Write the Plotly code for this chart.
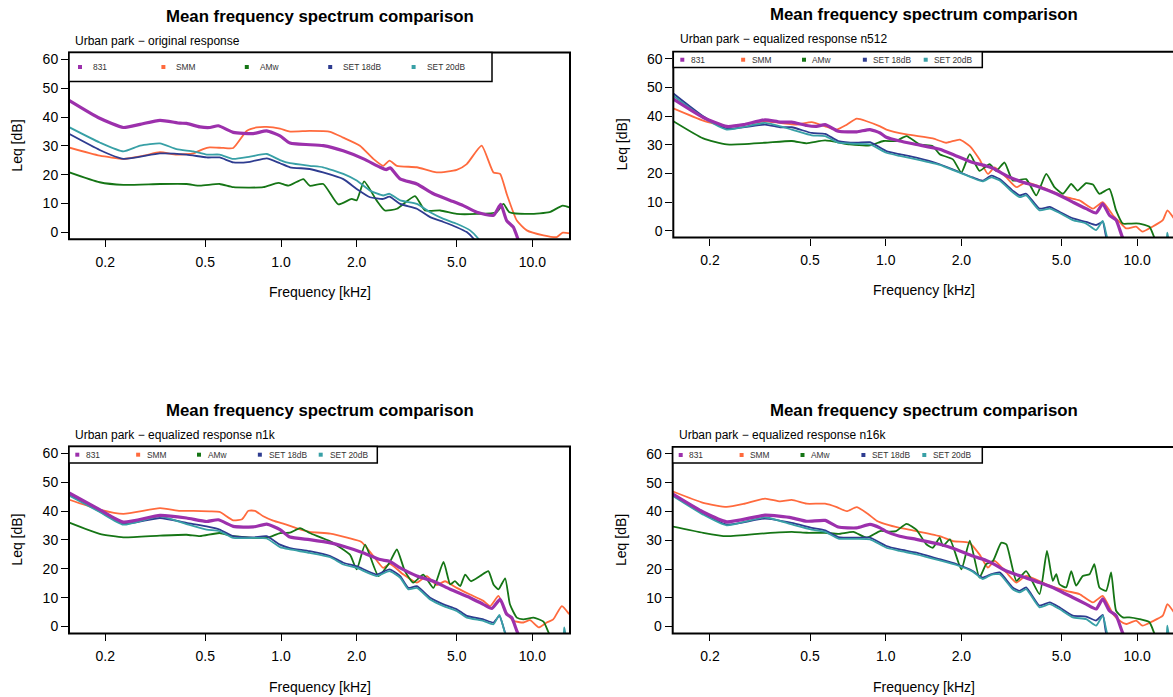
import math
import plotly.graph_objects as go

W, H = 1173, 697
FONT = "Liberation Sans, Arial, Helvetica, sans-serif"

# ---------------- data (frequency in kHz, level in dB) ----------------
SERIES = ["831", "SMM", "AMw", "SET 18dB", "SET 20dB"]
COLORS = ["#9C30AC", "#FF6A3D", "#157515", "#2E3C90", "#38A0A6"]
WIDTHS = [3.2, 1.8, 1.8, 1.8, 1.8]

XTICK_VALS = [0.2, 0.5, 1.0, 2.0, 5.0, 10.0]
XTICK_TEXT = ["0.2", "0.5", "1.0", "2.0", "5.0", "10.0"]
YTICK_VALS = [0, 10, 20, 30, 40, 50, 60]
Y_RANGE = [-2.4, 62.4]

TITLE = "Mean frequency spectrum comparison"
SUBTITLES = ["Urban park \u2212 original response",
             "Urban park \u2212 equalized response n512",
             "Urban park \u2212 equalized response n1k",
             "Urban park \u2212 equalized response n16k"]
X_TITLE = "Frequency [kHz]"
Y_TITLE = "Leq [dB]"

# --- original response ---
ORIG_831_F = [0.14, 0.19, 0.236, 0.275, 0.33, 0.396, 0.421, 0.476, 0.522, 0.563, 0.646, 0.776, 0.877, 0.991, 1.086, 1.473, 1.767, 2.13, 2.48, 2.62, 2.72, 2.975, 3.47, 4.04, 4.71, 5.31, 6.01, 7.0, 7.48, 7.9, 8.4, 8.8, 9.3]
ORIG_831_DB = [46.4, 39.6, 36.4, 37.5, 38.9, 37.9, 37.8, 36.6, 36.4, 37.0, 34.7, 34.3, 35.2, 33.5, 31.0, 30.1, 28.3, 25.5, 22.6, 21.8, 22.4, 18.6, 16.8, 13.4, 11.1, 9.3, 7.0, 5.9, 9.7, 4.1, 1.8, -2.8, -8]
ORIG_SMM_F = [0.14, 0.19, 0.236, 0.284, 0.33, 0.384, 0.448, 0.49, 0.52, 0.59, 0.646, 0.73, 0.8, 0.877, 0.991, 1.086, 1.3, 1.57, 1.767, 2.06, 2.33, 2.55, 2.7, 2.89, 3.47, 4.16, 5.0, 5.48, 6.28, 7.0, 7.44, 7.9, 8.67, 9.5, 11.07, 12.5, 13.2, 14.5]
ORIG_SMM_DB = [29.7, 26.6, 25.5, 26.6, 27.8, 27.0, 27.4, 28.9, 29.5, 29.3, 29.3, 35.2, 36.4, 36.6, 36.0, 35.0, 35.2, 34.9, 32.9, 30.1, 25.5, 23.1, 24.9, 23.1, 22.6, 20.8, 21.7, 23.7, 30.1, 20.8, 20.3, 13.4, 4.1, 0.7, -1.0, -1.6, -0.1, -0.5]
ORIG_AMW_F = [0.14, 0.19, 0.236, 0.33, 0.421, 0.476, 0.57, 0.646, 0.85, 0.975, 1.07, 1.227, 1.3, 1.473, 1.69, 1.91, 2.0, 2.14, 2.4, 2.59, 2.89, 3.41, 3.74, 4.3, 5.0, 6.0, 7.2, 7.67, 8.1, 9.77, 11.7, 13.2, 14.5]
ORIG_AMW_DB = [21.2, 17.4, 16.5, 16.8, 16.8, 16.2, 16.8, 15.7, 15.7, 17.2, 16.2, 18.5, 16.2, 16.8, 9.7, 11.6, 11.1, 17.7, 11.1, 7.6, 8.2, 12.6, 7.6, 7.6, 6.4, 6.4, 7.0, 9.9, 7.0, 6.4, 7.0, 9.3, 8.2]
ORIG_SET18_F = [0.14, 0.19, 0.236, 0.33, 0.421, 0.506, 0.57, 0.646, 0.753, 0.877, 0.991, 1.086, 1.3, 1.47, 1.77, 2.0, 2.26, 2.55, 2.7, 2.98, 3.47, 3.92, 4.43, 5.0, 5.48, 5.84, 6.3]
ORIG_SET18_DB = [34.7, 28.6, 25.5, 27.4, 27.0, 26.0, 26.0, 24.3, 24.5, 25.7, 24.0, 22.6, 22.0, 20.8, 18.5, 15.1, 12.2, 11.6, 12.4, 9.9, 8.2, 5.3, 3.6, 1.8, 0.1, -2.2, -6]
ORIG_SET20_F = [0.14, 0.19, 0.236, 0.275, 0.33, 0.384, 0.448, 0.506, 0.57, 0.646, 0.753, 0.877, 0.991, 1.086, 1.3, 1.47, 1.77, 2.0, 2.26, 2.55, 2.7, 2.98, 3.47, 3.92, 4.43, 5.0, 5.65, 6.1, 6.5]
ORIG_SET20_DB = [37.0, 31.2, 28.1, 30.1, 30.9, 28.9, 28.1, 27.0, 27.0, 25.5, 26.3, 27.2, 25.1, 24.0, 23.1, 22.6, 20.3, 18.0, 14.5, 12.8, 13.4, 11.1, 9.9, 7.0, 4.7, 3.0, 0.7, -2.2, -6]

# --- equalized n512 ---
N512_831_F = [0.14, 0.188, 0.233, 0.272, 0.331, 0.38, 0.423, 0.485, 0.531, 0.574, 0.648, 0.767, 0.866, 0.95, 1.006, 1.137, 1.324, 1.64, 1.91, 2.22, 2.51, 2.67, 3.02, 3.51, 4.09, 4.77, 5.55, 6.27, 6.87, 7.3, 7.76, 8.25, 8.77, 9.5]
N512_831_DB = [46.4, 39.5, 36.4, 37.0, 38.7, 37.9, 37.9, 36.7, 36.4, 37.0, 34.7, 34.5, 35.3, 34.1, 32.6, 31.3, 30.1, 28.4, 26.1, 23.8, 22.6, 21.8, 19.2, 16.9, 15.2, 12.9, 10.0, 7.7, 6.2, 9.4, 5.4, 3.7, -2.6, -8]
N512_SMM_F = [0.14, 0.188, 0.233, 0.272, 0.331, 0.38, 0.443, 0.508, 0.574, 0.639, 0.7, 0.767, 0.84, 0.95, 1.006, 1.21, 1.54, 1.74, 1.97, 2.16, 2.36, 2.55, 2.71, 3.02, 3.31, 3.62, 4.35, 5.22, 5.9, 6.67, 7.3, 8.01, 8.51, 9.05, 9.91, 10.5, 11.5, 12.65, 13.2, 14.0]
N512_SMM_DB = [43.0, 38.4, 36.4, 37.0, 38.2, 37.6, 37.0, 37.9, 36.4, 35.3, 37.0, 39.1, 38.2, 36.4, 35.3, 33.6, 32.2, 30.7, 31.8, 29.5, 24.9, 19.8, 22.1, 18.6, 15.2, 16.9, 14.6, 11.7, 10.6, 7.7, 10.0, 5.4, 3.1, 0.8, 1.4, -0.3, 1.4, 3.7, 7.1, 4.3]
N512_AMW_F = [0.14, 0.188, 0.233, 0.331, 0.423, 0.485, 0.574, 0.72, 0.866, 0.98, 1.1, 1.21, 1.365, 1.54, 1.64, 1.85, 2.0, 2.16, 2.36, 2.59, 2.75, 2.97, 3.2, 3.62, 3.97, 4.35, 4.69, 5.07, 5.47, 5.8, 6.27, 6.67, 7.08, 7.76, 8.25, 8.77, 9.32, 10.2, 11.2, 11.7, 12.2]
N512_AMW_DB = [38.7, 32.2, 30.1, 30.7, 31.3, 30.5, 31.5, 30.1, 29.8, 31.3, 31.3, 33.0, 30.1, 29.5, 26.7, 24.9, 20.3, 26.7, 20.9, 23.2, 20.9, 23.8, 17.5, 18.0, 12.3, 19.8, 15.2, 12.9, 16.3, 14.0, 16.6, 16.1, 12.9, 14.6, 7.1, 2.5, 2.5, 2.5, 1.4, -2.3, -6]
N512_SET18_F = [0.14, 0.188, 0.233, 0.331, 0.38, 0.423, 0.508, 0.574, 0.648, 0.767, 0.866, 1.006, 1.137, 1.324, 1.64, 1.91, 2.22, 2.43, 2.63, 2.84, 3.2, 3.41, 3.62, 4.09, 4.49, 4.91, 5.55, 6.27, 6.87, 7.3, 7.53, 8.0]
N512_SET18_DB = [48.5, 39.9, 35.6, 37.0, 36.1, 36.1, 34.1, 33.8, 31.3, 30.7, 30.9, 27.8, 26.7, 25.5, 23.2, 20.9, 18.6, 17.5, 19.2, 18.0, 14.0, 12.3, 12.9, 7.7, 8.3, 6.6, 4.3, 3.1, 2.0, 3.1, -2.1, -6]
N512_SET20_F = [0.14, 0.188, 0.233, 0.331, 0.423, 0.508, 0.574, 0.648, 0.767, 0.866, 1.006, 1.137, 1.324, 1.64, 1.91, 2.22, 2.43, 2.63, 2.84, 3.2, 3.41, 3.62, 4.09, 4.49, 4.91, 5.55, 6.27, 6.87, 7.3, 7.6, 8.0, 12.9, 13.2, 13.5]
N512_SET20_DB = [47.6, 39.5, 35.3, 37.6, 35.3, 33.3, 33.0, 30.7, 30.3, 30.1, 27.2, 26.1, 24.9, 23.0, 20.7, 18.4, 17.2, 18.6, 17.5, 13.4, 11.7, 12.3, 7.1, 7.7, 6.2, 3.7, 2.5, 0.2, 3.4, -2.3, -6, -6, -0.7, -6]

# --- equalized n1k ---
N1K_831_F = [0.14, 0.19, 0.236, 0.33, 0.421, 0.506, 0.563, 0.646, 0.776, 0.877, 0.991, 1.086, 1.3, 1.57, 1.77, 2.13, 2.48, 2.7, 2.98, 3.47, 4.04, 4.71, 5.65, 6.38, 6.9, 7.44, 7.9, 8.27, 8.67, 9.3]
N1K_831_DB = [46.8, 40.5, 36.2, 38.5, 37.6, 36.4, 37.0, 34.7, 34.5, 35.5, 33.6, 31.0, 30.1, 29.0, 27.8, 25.5, 23.2, 22.6, 20.3, 17.5, 15.7, 12.9, 10.0, 7.7, 6.3, 9.4, 4.3, 3.1, -1.5, -8]
N1K_SMM_F = [0.14, 0.19, 0.236, 0.33, 0.396, 0.448, 0.52, 0.57, 0.646, 0.7, 0.742, 0.788, 0.85, 0.93, 1.05, 1.15, 1.3, 1.57, 1.85, 2.09, 2.33, 2.55, 2.71, 3.07, 3.47, 3.8, 4.16, 4.49, 5.0, 5.65, 6.38, 6.79, 7.33, 7.79, 8.4, 9.21, 9.79, 10.6, 11.4, 12.1, 13.1, 14.0]
N1K_SMM_DB = [44.3, 40.5, 39.0, 41.0, 40.1, 40.1, 39.9, 39.7, 36.8, 37.2, 40.1, 40.1, 38.2, 36.7, 35.3, 34.1, 32.8, 32.2, 30.7, 29.3, 24.4, 20.3, 21.7, 18.0, 15.2, 17.5, 14.4, 15.7, 13.4, 11.1, 8.9, 7.1, 10.6, 5.4, 2.0, 1.4, 2.2, -0.3, 1.4, 2.5, 7.1, 4.3]
N1K_AMW_F = [0.14, 0.19, 0.236, 0.33, 0.421, 0.476, 0.57, 0.646, 0.877, 0.991, 1.086, 1.19, 1.3, 1.57, 1.88, 2.0, 2.16, 2.44, 2.7, 2.89, 3.11, 3.36, 3.68, 4.04, 4.43, 4.71, 4.92, 5.16, 5.4, 5.7, 6.19, 6.68, 7.0, 7.33, 7.79, 8.14, 8.67, 9.21, 10.1, 11.07, 11.6, 12.2]
N1K_AMW_DB = [36.4, 32.1, 30.9, 31.5, 31.8, 31.3, 32.4, 31.3, 30.7, 32.4, 32.5, 34.1, 32.4, 29.5, 24.9, 19.8, 28.4, 17.5, 22.1, 26.7, 19.2, 15.2, 18.0, 13.4, 22.4, 14.6, 15.7, 14.0, 18.0, 15.7, 17.5, 19.2, 14.6, 12.9, 16.7, 7.7, 3.1, 2.5, 3.1, 1.7, -2.1, -6]
N1K_SET18_F = [0.14, 0.19, 0.236, 0.33, 0.421, 0.506, 0.57, 0.646, 0.776, 0.877, 0.991, 1.086, 1.3, 1.57, 1.77, 2.0, 2.4, 2.7, 2.98, 3.21, 3.47, 3.92, 4.43, 5.0, 5.48, 6.38, 7.0, 7.39, 7.79, 8.2]
N1K_SET18_DB = [46.2, 39.9, 35.6, 37.6, 35.9, 34.7, 33.6, 31.3, 30.9, 31.3, 28.4, 27.2, 26.1, 24.4, 22.1, 20.9, 18.0, 19.8, 17.5, 13.4, 14.0, 10.0, 7.7, 6.0, 3.7, 2.5, 1.4, 3.7, -2.1, -6]
N1K_SET20_F = [0.14, 0.19, 0.236, 0.33, 0.421, 0.506, 0.57, 0.646, 0.776, 0.877, 0.991, 1.086, 1.3, 1.57, 1.77, 2.0, 2.4, 2.7, 2.98, 3.21, 3.47, 3.92, 4.43, 5.0, 5.48, 6.38, 7.0, 7.39, 7.79, 8.2, 13.1, 13.4, 13.7]
N1K_SET20_DB = [45.9, 39.7, 35.3, 38.2, 35.5, 33.6, 33.0, 30.7, 30.7, 30.5, 27.5, 26.7, 25.5, 24.0, 21.5, 20.3, 17.5, 19.2, 16.9, 12.9, 13.4, 9.4, 7.1, 5.4, 3.1, 2.0, 0.8, 4.0, -2.4, -6, -6, -0.3, -6]

# --- equalized n16k ---
N16K_831_F = [0.14, 0.188, 0.233, 0.331, 0.423, 0.485, 0.574, 0.648, 0.767, 0.866, 0.95, 1.006, 1.137, 1.324, 1.64, 1.91, 2.22, 2.51, 2.67, 3.02, 3.51, 4.09, 4.77, 5.55, 6.27, 6.87, 7.3, 7.76, 8.25, 8.77, 9.5]
N16K_831_DB = [46.4, 39.8, 36.4, 38.7, 37.8, 36.6, 36.9, 34.6, 34.3, 35.5, 34.3, 33.0, 31.4, 30.3, 28.6, 26.8, 24.5, 23.0, 21.9, 19.3, 17.3, 15.3, 13.0, 10.1, 7.8, 6.1, 9.6, 5.5, 3.8, -2.3, -8]
N16K_SMM_F = [0.14, 0.188, 0.233, 0.272, 0.331, 0.38, 0.423, 0.485, 0.574, 0.639, 0.7, 0.767, 0.84, 0.92, 1.006, 1.137, 1.324, 1.64, 1.85, 2.15, 2.36, 2.55, 2.71, 3.02, 3.31, 3.62, 4.35, 5.22, 5.9, 6.67, 7.3, 8.01, 8.51, 9.05, 9.91, 10.5, 11.5, 12.65, 13.2, 14.0]
N16K_SMM_DB = [47.2, 43.0, 41.6, 42.6, 44.5, 43.5, 44.0, 42.7, 42.7, 41.5, 40.1, 41.5, 39.5, 36.8, 35.5, 34.3, 33.2, 31.4, 29.7, 29.1, 25.1, 20.5, 22.8, 18.8, 15.3, 17.6, 14.7, 12.4, 11.3, 8.4, 10.7, 4.4, 2.1, 0.9, 2.1, 0.3, 1.8, 3.8, 7.8, 5.0]
N16K_AMW_F = [0.14, 0.188, 0.233, 0.331, 0.423, 0.485, 0.574, 0.648, 0.744, 0.84, 0.95, 1.04, 1.1, 1.21, 1.324, 1.45, 1.54, 1.64, 1.69, 1.8, 2.0, 2.16, 2.36, 2.51, 2.67, 2.88, 3.02, 3.31, 3.62, 4.09, 4.38, 4.62, 4.77, 4.91, 5.22, 5.47, 5.72, 6.08, 6.47, 6.76, 7.08, 7.53, 7.88, 8.25, 8.77, 9.32, 10.2, 11.2, 11.7, 12.2]
N16K_AMW_DB = [34.9, 32.6, 31.4, 32.4, 32.9, 32.6, 32.6, 32.2, 32.9, 30.9, 33.2, 33.0, 33.2, 35.7, 33.7, 28.6, 27.4, 30.9, 28.0, 30.3, 19.9, 29.9, 17.0, 21.7, 22.8, 29.1, 28.6, 15.9, 19.3, 11.3, 26.3, 15.9, 18.2, 14.7, 13.6, 19.3, 14.2, 17.6, 18.2, 21.7, 13.6, 12.4, 18.8, 5.5, 3.2, 3.2, 2.6, 1.5, -2.3, -6]
N16K_SET18_F = [0.14, 0.188, 0.233, 0.331, 0.423, 0.508, 0.574, 0.648, 0.767, 0.866, 1.006, 1.137, 1.324, 1.64, 1.91, 2.22, 2.43, 2.63, 2.84, 3.2, 3.41, 3.62, 4.09, 4.49, 4.91, 5.55, 6.27, 6.87, 7.3, 7.53, 8.0]
N16K_SET18_DB = [46.1, 39.2, 35.5, 37.5, 36.0, 34.3, 33.4, 31.1, 30.9, 30.9, 28.0, 26.8, 25.7, 23.4, 21.7, 19.3, 17.0, 18.2, 18.8, 13.6, 12.4, 13.6, 7.3, 8.4, 6.7, 3.8, 3.5, 2.1, 4.1, -2.3, -6]
N16K_SET20_F = [0.14, 0.188, 0.233, 0.331, 0.423, 0.508, 0.574, 0.648, 0.767, 0.866, 1.006, 1.137, 1.324, 1.64, 1.91, 2.22, 2.43, 2.63, 2.84, 3.2, 3.41, 3.62, 4.09, 4.49, 4.91, 5.55, 6.27, 6.87, 7.3, 7.6, 8.0, 12.9, 13.2, 13.5]
N16K_SET20_DB = [45.8, 38.9, 35.2, 38.0, 35.5, 33.7, 32.9, 30.6, 30.5, 30.3, 27.4, 26.3, 25.1, 23.0, 21.4, 19.1, 16.5, 18.0, 18.2, 13.0, 11.9, 13.0, 6.7, 7.8, 6.1, 3.2, 2.6, 0.3, 3.8, -2.3, -6, -6, 0.3, -6]

PANEL_DATA = [
    [(ORIG_831_F, ORIG_831_DB), (ORIG_SMM_F, ORIG_SMM_DB), (ORIG_AMW_F, ORIG_AMW_DB),
     (ORIG_SET18_F, ORIG_SET18_DB), (ORIG_SET20_F, ORIG_SET20_DB)],
    [(N512_831_F, N512_831_DB), (N512_SMM_F, N512_SMM_DB), (N512_AMW_F, N512_AMW_DB),
     (N512_SET18_F, N512_SET18_DB), (N512_SET20_F, N512_SET20_DB)],
    [(N1K_831_F, N1K_831_DB), (N1K_SMM_F, N1K_SMM_DB), (N1K_AMW_F, N1K_AMW_DB),
     (N1K_SET18_F, N1K_SET18_DB), (N1K_SET20_F, N1K_SET20_DB)],
    [(N16K_831_F, N16K_831_DB), (N16K_SMM_F, N16K_SMM_DB), (N16K_AMW_F, N16K_AMW_DB),
     (N16K_SET18_F, N16K_SET18_DB), (N16K_SET20_F, N16K_SET20_DB)],
]

# ---------------- layout geometry (pixels) ----------------
PX_PER_DECADE = 251.4
PANELS = [
    dict(left=69, right=570, top=51.7, bottom=239, one_khz=281, title_y=16, sub_x=74, sub_y=40,
         ytitle_x=16.7, xtitle_y=291.7, leg_right=492, leg_bottom=80.7, leg_first=80,
         leg_step=83.4, leg_gap=12.5, leg_y=66.2),
    dict(left=673.3, right=1175.5, top=51, bottom=237.3, one_khz=885.7, title_y=14, sub_x=679.2, sub_y=38.5,
         ytitle_x=621.7, xtitle_y=290, leg_right=982.3, leg_bottom=66.7, leg_first=682.3,
         leg_step=60.85, leg_gap=7.9, leg_y=58.9),
    dict(left=69, right=570, top=446.7, bottom=634.3, one_khz=281, title_y=411, sub_x=74, sub_y=435,
         ytitle_x=16.7, xtitle_y=687.7, leg_right=377.3, leg_bottom=463.3, leg_first=77.3,
         leg_step=60.85, leg_gap=8.4, leg_y=455),
    dict(left=672.7, right=1175.5, top=447.3, bottom=634.3, one_khz=885.7, title_y=411, sub_x=678.3, sub_y=435.2,
         ytitle_x=621.7, xtitle_y=688, leg_right=982.3, leg_bottom=463.3, leg_first=680.7,
         leg_step=60.9, leg_gap=8.0, leg_y=455.3),
]


def px(x):
    return x / W


def py(y):
    return 1 - y / H


fig = go.Figure()
layout = dict(width=W, height=H, margin=dict(l=0, r=0, t=0, b=0),
              paper_bgcolor="white", plot_bgcolor="white", showlegend=False,
              font=dict(family=FONT, color="black"))
shapes = []
annotations = []

for i, (p, series) in enumerate(zip(PANELS, PANEL_DATA)):
    n = "" if i == 0 else str(i + 1)
    vis_right = min(p["right"], W)
    xr = [(p["left"] - p["one_khz"]) / PX_PER_DECADE, (vis_right - p["one_khz"]) / PX_PER_DECADE]
    layout["xaxis" + n] = dict(
        type="log", range=xr, domain=[px(p["left"]), px(vis_right)], anchor="y" + n,
        tickvals=XTICK_VALS, ticktext=XTICK_TEXT, ticks="outside", ticklen=7, tickwidth=1.4,
        tickcolor="black", showline=False, showgrid=False, zeroline=False, ticklabelstandoff=3,
        tickfont=dict(family=FONT, size=14, color="black"), fixedrange=True)
    layout["yaxis" + n] = dict(
        range=Y_RANGE, domain=[py(p["bottom"]), py(p["top"])], anchor="x" + n,
        tickvals=YTICK_VALS, ticks="outside", ticklen=7, tickwidth=1.4, tickcolor="black",
        showline=False, showgrid=False, zeroline=False,
        tickfont=dict(family=FONT, size=14, color="black"), fixedrange=True)

    order = [1, 2, 3, 4, 0]
    for k in order:
        f, db = series[k]
        fig.add_trace(go.Scatter(x=f, y=db, mode="lines", name=SERIES[k],
                                 line=dict(color=COLORS[k], width=WIDTHS[k], shape="spline", smoothing=0.5),
                                 xaxis="x" + n, yaxis="y" + n, hoverinfo="x+y+name"))

    # frame
    shapes.append(dict(type="rect", xref="paper", yref="paper",
                       x0=px(p["left"]), x1=px(p["right"]), y0=py(p["bottom"]), y1=py(p["top"]),
                       line=dict(color="black", width=2), fillcolor="rgba(0,0,0,0)", layer="above"))
    # legend box
    shapes.append(dict(type="rect", xref="paper", yref="paper",
                       x0=px(p["left"]), x1=px(p["leg_right"]), y0=py(p["leg_bottom"]), y1=py(p["top"]),
                       line=dict(color="black", width=1.5), fillcolor="white", layer="above"))
    for k, name in enumerate(SERIES):
        mx = p["leg_first"] + k * p["leg_step"]
        shapes.append(dict(type="rect", xref="paper", yref="paper",
                           x0=px(mx - 2), x1=px(mx + 2), y0=py(p["leg_y"] + 2), y1=py(p["leg_y"] - 2),
                           line=dict(width=0), fillcolor=COLORS[k], layer="above"))
        annotations.append(dict(text=name, xref="paper", yref="paper", x=px(mx + p["leg_gap"] - 1.5),
                                y=py(p["leg_y"]), xanchor="left", yanchor="middle", showarrow=False,
                                font=dict(family=FONT, size=8.4, color="#333333")))

    cx = (p["left"] + p["right"]) / 2
    annotations.append(dict(text=TITLE, xref="paper", yref="paper", x=px(cx), y=py(p["title_y"]),
                            xanchor="center", yanchor="middle", showarrow=False,
                            font=dict(family=FONT, size=16.8, color="black", weight="bold")))
    annotations.append(dict(text=SUBTITLES[i], xref="paper", yref="paper", x=px(p["sub_x"] - 1),
                            y=py(p["sub_y"]), xanchor="left", yanchor="middle", showarrow=False,
                            font=dict(family=FONT, size=12, color="black")))
    annotations.append(dict(text=X_TITLE, xref="paper", yref="paper", x=px(cx), y=py(p["xtitle_y"]),
                            xanchor="center", yanchor="middle", showarrow=False,
                            font=dict(family=FONT, size=14, color="black")))
    annotations.append(dict(text=Y_TITLE, xref="paper", yref="paper", x=px(p["ytitle_x"]),
                            y=py((p["top"] + p["bottom"]) / 2), xanchor="center", yanchor="middle",
                            textangle=-90, showarrow=False,
                            font=dict(family=FONT, size=14, color="black")))

layout["shapes"] = shapes
layout["annotations"] = annotations
fig.update_layout(**layout)
fig.write_html("out.html")
